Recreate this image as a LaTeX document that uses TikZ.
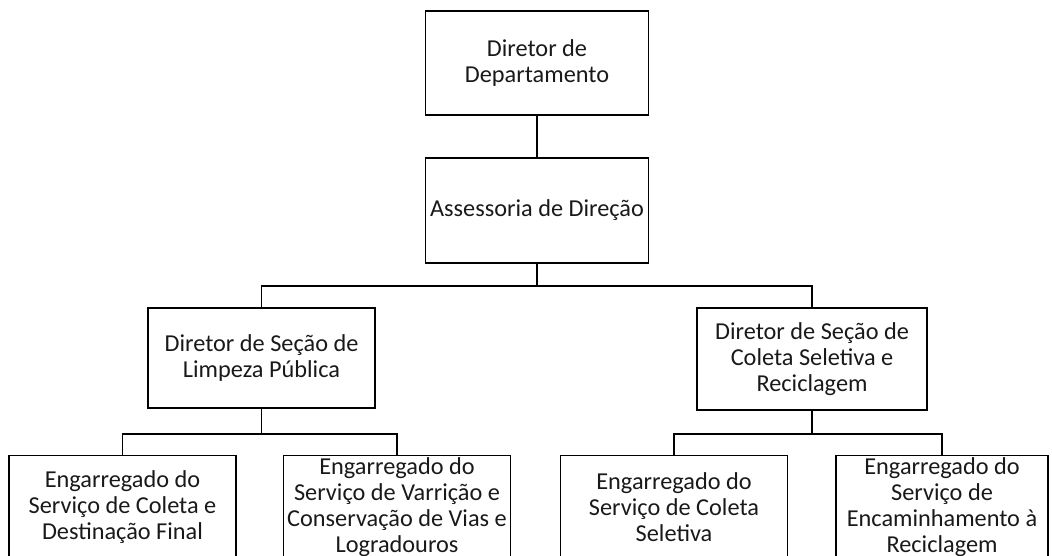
\documentclass[tikz,border=0pt]{standalone}
\usepackage{fontspec}
\setmainfont{Carlito}
\begin{document}
\begin{tikzpicture}[x=1pt,y=-1pt,
  box/.style={draw=black, line width=1.8pt, align=center, inner sep=0pt,
    font=\fontsize{24.3}{25.8}\selectfont, text=black!90},
  conn/.style={draw=black, line width=1.8pt}]
\useasboundingbox (0,0) rectangle (1052,556);
\node[box, minimum width=223pt, minimum height=104pt] (dd) at (537,63) {Diretor de\\Departamento};
\node[box, minimum width=223pt, minimum height=105pt] (ad) at (537,210.5) {Assessoria de Direção};
\node[box, minimum width=227pt, minimum height=100pt] (ls) at (261.5,358) {Diretor de Seção de\\Limpeza Pública};
\node[box, minimum width=230pt, minimum height=102pt] (rs) at (812,359) {Diretor de Seção de\\Coleta Seletiva e\\Reciclagem};
\node[box, minimum width=227pt, minimum height=103pt] (b1) at (122.5,507) {Engarregado do\\Serviço de Coleta e\\Destinação Final};
\node[box, minimum width=227pt, minimum height=103pt] (b2) at (397,507) {Engarregado do\\Serviço de Varrição e\\Conservação de Vias e\\Logradouros};
\node[box, minimum width=227pt, minimum height=103pt] (b3) at (674,507) {Engarregado do\\Serviço de Coleta\\Seletiva};
\node[box, minimum width=212pt, minimum height=103pt] (b4) at (942,507) {Engarregado do\\Serviço de\\Encaminhamento à\\Reciclagem};
\draw[conn] (dd.south) -- (ad.north);
\draw[conn] (ad.south) -- ++(0,22) coordinate (j1);
\draw[conn] (j1) -| (ls.north);
\draw[conn] (j1) -| (rs.north);
\draw[conn] (ls.south) -- ++(0,25) coordinate (j2);
\draw[conn] (j2) -| (b1.north);
\draw[conn] (j2) -| (b2.north);
\draw[conn] (rs.south) -- ++(0,23) coordinate (j3);
\draw[conn] (j3) -| (b3.north);
\draw[conn] (j3) -| (b4.north);
\end{tikzpicture}
\end{document}
